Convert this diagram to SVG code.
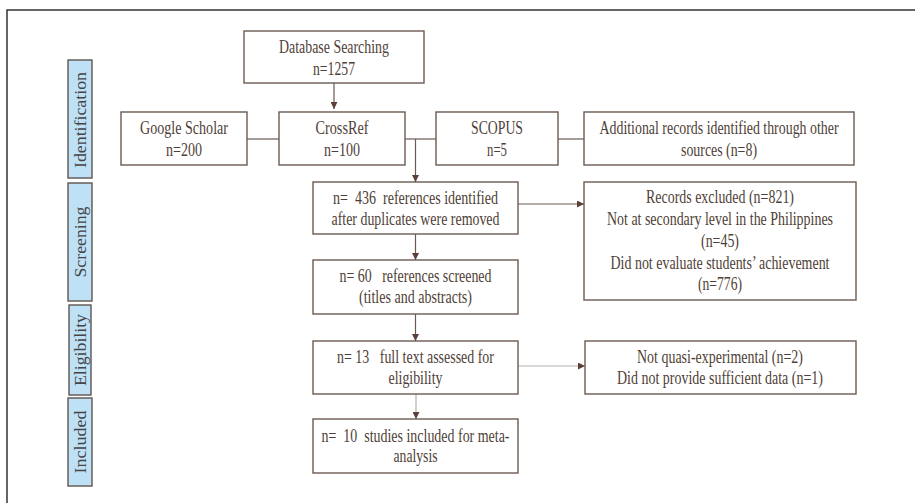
<svg xmlns="http://www.w3.org/2000/svg" width="915" height="503" viewBox="0 0 915 503">
<defs>
<style>
.box{fill:#fff;stroke:#6b5a52;stroke-width:1.4}
.side{fill:#bfe1f6;stroke:#5d5550;stroke-width:1.4}
text{font-family:'Liberation Serif','DejaVu Serif',serif}
.t{font-size:18px;fill:#4f3f38;text-anchor:middle}
.s{font-size:17px;fill:#444;text-anchor:middle}
.ln{fill:none;stroke:#6b5a52;stroke-width:1.2}
.lg{fill:none;stroke:#b8b0ab;stroke-width:1.2}
</style>
<marker id="ah" viewBox="0 0 10 10" refX="10" refY="5" markerWidth="7" markerHeight="7" markerUnits="userSpaceOnUse" orient="auto">
<path d="M0,0 L10,5 L0,10 z" fill="#5a4038"/>
</marker>
</defs>
<rect width="915" height="503" fill="#fff"/>
<rect x="7" y="10" width="920" height="510" fill="none" stroke="#333" stroke-width="1.5"/>

<g id="side-identification"><rect class="side" x="68" y="60" width="24" height="118"/><text class="s" transform="translate(86,120) rotate(-90)" textLength="96" lengthAdjust="spacingAndGlyphs">Identification</text></g>
<g id="side-screening"><rect class="side" x="68" y="183" width="24" height="118"/><text class="s" transform="translate(86,242) rotate(-90)" textLength="71" lengthAdjust="spacingAndGlyphs">Screening</text></g>
<g id="side-eligibility"><rect class="side" x="69" y="305" width="22" height="90"/><text class="s" transform="translate(86,350) rotate(-90)" textLength="72" lengthAdjust="spacingAndGlyphs">Eligibility</text></g>
<g id="side-included"><rect class="side" x="68" y="398" width="24" height="88"/><text class="s" transform="translate(86,442) rotate(-90)" textLength="63" lengthAdjust="spacingAndGlyphs">Included</text></g>

<g id="connectors">
<line class="ln" x1="334" y1="83" x2="334" y2="109" marker-end="url(#ah)"/>
<line class="ln" x1="247" y1="139" x2="279" y2="139"/>
<line class="ln" x1="405" y1="139" x2="436" y2="139"/>
<line class="ln" x1="558" y1="139" x2="584" y2="139"/>
<line class="ln" x1="415.5" y1="139" x2="415.5" y2="182" marker-end="url(#ah)"/>
<line class="ln" x1="415.5" y1="234" x2="415.5" y2="260" marker-end="url(#ah)"/>
<line class="ln" x1="415.5" y1="314" x2="415.5" y2="341" marker-end="url(#ah)"/>
<line class="lg" x1="416" y1="394" x2="416" y2="419" marker-end="url(#ah)"/>
<line class="ln" x1="518" y1="204" x2="584" y2="204" marker-end="url(#ah)"/>
<line class="lg" x1="518" y1="366" x2="585" y2="366" marker-end="url(#ah)"/>
</g>

<g id="database"><rect class="box" x="244" y="31" width="180" height="52"/>
<text class="t" x="334" y="53" textLength="110" lengthAdjust="spacingAndGlyphs">Database Searching</text>
<text class="t" x="334" y="75" textLength="42" lengthAdjust="spacingAndGlyphs">n=1257</text></g>

<g id="google"><rect class="box" x="121" y="112" width="126" height="53"/>
<text class="t" x="184" y="134" textLength="88" lengthAdjust="spacingAndGlyphs">Google Scholar</text>
<text class="t" x="184" y="156" textLength="36" lengthAdjust="spacingAndGlyphs">n=200</text></g>

<g id="crossref"><rect class="box" x="279" y="112" width="126" height="53"/>
<text class="t" x="342" y="134" textLength="53" lengthAdjust="spacingAndGlyphs">CrossRef</text>
<text class="t" x="342" y="156" textLength="36" lengthAdjust="spacingAndGlyphs">n=100</text></g>

<g id="scopus"><rect class="box" x="436" y="112" width="122" height="53"/>
<text class="t" x="497" y="134" textLength="52" lengthAdjust="spacingAndGlyphs">SCOPUS</text>
<text class="t" x="497" y="156" textLength="20" lengthAdjust="spacingAndGlyphs">n=5</text></g>

<g id="additional"><rect class="box" x="584" y="112" width="270" height="53"/>
<text class="t" x="719" y="134" textLength="239" lengthAdjust="spacingAndGlyphs">Additional records identified through other</text>
<text class="t" x="719" y="156" textLength="76" lengthAdjust="spacingAndGlyphs">sources (n=8)</text></g>

<g id="identified"><rect class="box" x="313" y="182" width="205" height="52"/>
<text class="t" x="415.5" y="204" textLength="165" lengthAdjust="spacingAndGlyphs" xml:space="preserve">n=  436  references identified</text>
<text class="t" x="415.5" y="225" textLength="168" lengthAdjust="spacingAndGlyphs">after duplicates were removed</text></g>

<g id="excluded"><rect class="box" x="584" y="182" width="272" height="118"/>
<text class="t" x="720" y="203" textLength="148" lengthAdjust="spacingAndGlyphs">Records excluded (n=821)</text>
<text class="t" x="720" y="225" textLength="226" lengthAdjust="spacingAndGlyphs">Not at secondary level in the Philippines</text>
<text class="t" x="720" y="247" textLength="38" lengthAdjust="spacingAndGlyphs">(n=45)</text>
<text class="t" x="720" y="269" textLength="219" lengthAdjust="spacingAndGlyphs">Did not evaluate students’ achievement</text>
<text class="t" x="720" y="290" textLength="44" lengthAdjust="spacingAndGlyphs">(n=776)</text></g>

<g id="screened"><rect class="box" x="313" y="260" width="205" height="54"/>
<text class="t" x="415.5" y="282" textLength="152" lengthAdjust="spacingAndGlyphs" xml:space="preserve">n= 60   references screened</text>
<text class="t" x="415.5" y="303" textLength="113" lengthAdjust="spacingAndGlyphs">(titles and abstracts)</text></g>

<g id="fulltext"><rect class="box" x="313" y="341" width="205" height="53"/>
<text class="t" x="415.5" y="363" textLength="157" lengthAdjust="spacingAndGlyphs" xml:space="preserve">n= 13   full text assessed for</text>
<text class="t" x="415.5" y="384" textLength="54" lengthAdjust="spacingAndGlyphs">eligibility</text></g>

<g id="notquasi"><rect class="box" x="585" y="341" width="271" height="53"/>
<text class="t" x="720" y="363" textLength="166" lengthAdjust="spacingAndGlyphs">Not quasi-experimental (n=2)</text>
<text class="t" x="720" y="384" textLength="206" lengthAdjust="spacingAndGlyphs">Did not provide sufficient data (n=1)</text></g>

<g id="included"><rect class="box" x="313" y="419" width="205" height="54"/>
<text class="t" x="415.5" y="442" textLength="188" lengthAdjust="spacingAndGlyphs" xml:space="preserve">n=  10  studies included for meta-</text>
<text class="t" x="415.5" y="462" textLength="44" lengthAdjust="spacingAndGlyphs">analysis</text></g>
</svg>
